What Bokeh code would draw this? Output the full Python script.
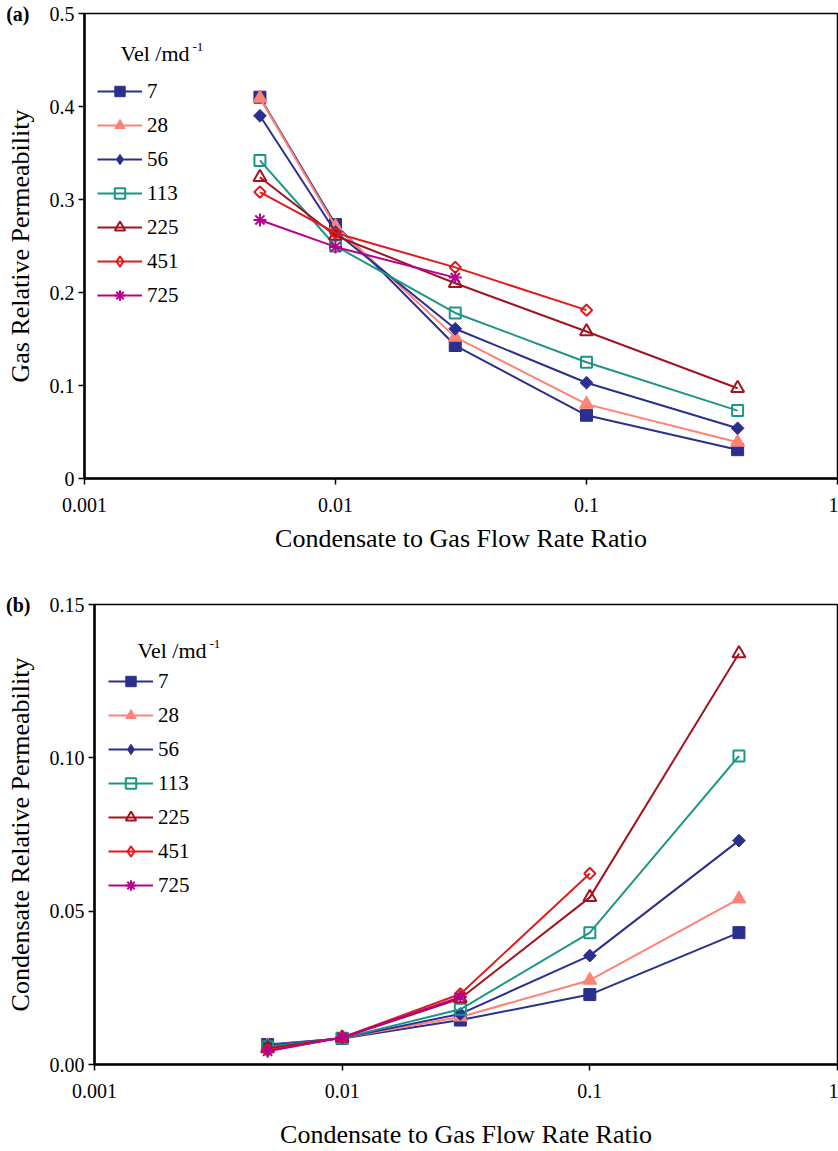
from bokeh.plotting import figure
from bokeh.models import (Range1d, FixedTicker, Legend, LegendItem, Label,
                          NumeralTickFormatter, LinearAxis)
from bokeh.embed import file_html
from bokeh.resources import INLINE

# ---------------- data ----------------
x_ratio = [0.005, 0.01, 0.03, 0.1, 0.4]
velocities = ["7", "28", "56", "113", "225", "451", "725"]

# (a) gas relative permeability
krg_7 = [0.410, 0.273, 0.143, 0.068, 0.031]
krg_28 = [0.409, 0.271, 0.152, 0.080, 0.039]
krg_56 = [0.390, 0.265, 0.161, 0.103, 0.054]
krg_113 = [0.342, 0.250, 0.178, 0.125, 0.073]
krg_225 = [0.324, 0.261, 0.210, 0.158, 0.097]
krg_451 = [0.308, 0.264, 0.227, 0.181]
krg_725 = [0.278, 0.249, 0.216]

# (b) condensate relative permeability
krc_7 = [0.0065, 0.0085, 0.0145, 0.0228, 0.0430]
krc_28 = [0.0062, 0.0086, 0.0155, 0.0275, 0.0540]
krc_56 = [0.0062, 0.0086, 0.0165, 0.0355, 0.0730]
krc_113 = [0.0058, 0.0086, 0.0180, 0.0430, 0.1006]
krc_225 = [0.0052, 0.0087, 0.0215, 0.0545, 0.1340]
krc_451 = [0.0046, 0.0088, 0.0230, 0.0623]
krc_725 = [0.0043, 0.0088, 0.0220]

x_ticks = [0.001, 0.01, 0.1, 1]
x_tick_labels = ["0.001", "0.01", "0.1", "1"]
ya_ticks = [0, 0.1, 0.2, 0.3, 0.4, 0.5]
ya_tick_labels = ["0", "0.1", "0.2", "0.3", "0.4", "0.5"]
yb_ticks = [0, 0.05, 0.10, 0.15]

gas_series = [krg_7, krg_28, krg_56, krg_113, krg_225, krg_451, krg_725]
cond_series = [krc_7, krc_28, krc_56, krc_113, krc_225, krc_451, krc_725]

# ---------------- styles ----------------
NAVY = "#2B2F8E"
SALMON = "#FF8276"
TEAL = "#1B9685"
DARKRED = "#A3141F"
RED = "#E31A1C"
MAGENTA = "#B8008F"
DIAG = 0.785398
styles = [
    dict(color=NAVY, marker="square", filled=True, size=12, angle=0.0, leg="square", leg_size=12),
    dict(color=SALMON, marker="triangle", filled=True, size=14, angle=0.0, leg="triangle", leg_size=14),
    dict(color=NAVY, marker="square", filled=True, size=9, angle=DIAG, leg="diamond", leg_size=14),
    dict(color=TEAL, marker="square", filled=False, size=11, angle=0.0, leg="square", leg_size=11),
    dict(color=DARKRED, marker="triangle", filled=False, size=13, angle=0.0, leg="triangle", leg_size=13),
    dict(color=RED, marker="square", filled=False, size=8, angle=DIAG, leg="diamond", leg_size=13),
    dict(color=MAGENTA, marker="asterisk", filled=False, size=13, angle=0.0, leg="asterisk", leg_size=13),
]

FONT = "Liberation Serif"


def make_panel(series, y_top, y_ticks, y_label, letter, height, border_left,
               border_top, border_bottom, leg_loc, title_xy, sup_xy,
               letter_standoff, x_label_standoff, y_fmt):
    p = figure(width=838, height=height, x_axis_type="log",
               x_range=Range1d(0.001, 1), y_range=Range1d(0, y_top),
               output_backend="svg", toolbar_location=None,
               min_border_left=border_left, min_border_right=1,
               min_border_top=border_top, min_border_bottom=border_bottom)
    p.background_fill_color = "white"
    p.border_fill_color = "white"
    p.outline_line_color = "black"
    p.outline_line_width = 1.5
    p.xgrid.visible = False
    p.ygrid.visible = False

    for ax in (p.xaxis[0], p.yaxis[0]):
        ax.axis_line_width = 2.5
        ax.axis_line_color = "black"
        ax.major_tick_line_width = 1.5
        ax.major_tick_out = 6
        ax.major_tick_in = 0
        ax.minor_tick_line_color = None
        ax.major_label_text_font = FONT
        ax.major_label_text_font_style = "normal"
        ax.major_label_text_font_size = "20px"
        ax.major_label_text_color = "black"
        ax.axis_label_text_font = FONT
        ax.axis_label_text_font_size = "26px"
        ax.axis_label_text_font_style = "normal"
        ax.axis_label_text_color = "black"

    p.xaxis.ticker = FixedTicker(ticks=x_ticks, minor_ticks=[])
    p.xaxis.major_label_overrides = {t: l for t, l in zip(x_ticks, x_tick_labels)}
    p.xaxis.major_label_standoff = 13
    p.xaxis.axis_label = "Condensate to Gas Flow Rate Ratio"
    p.xaxis.axis_label_standoff = x_label_standoff

    p.yaxis.ticker = FixedTicker(ticks=y_ticks, minor_ticks=[])
    p.yaxis.major_label_standoff = 4
    p.yaxis.axis_label = None
    y_fmt(p)

    # outer left axis: panel letter at the top tick, plus the y-axis title
    outer = LinearAxis(ticker=FixedTicker(ticks=[y_top], minor_ticks=[]),
                       major_label_overrides={y_top: letter},
                       axis_line_color=None, major_tick_line_color=None,
                       minor_tick_line_color=None, major_tick_out=0, major_tick_in=0,
                       major_label_standoff=letter_standoff,
                       major_label_text_font=FONT, major_label_text_font_size="20px",
                       major_label_text_font_style="bold", major_label_text_color="black",
                       axis_label=y_label, axis_label_standoff=-32,
                       axis_label_text_font=FONT, axis_label_text_font_size="26px",
                       axis_label_text_font_style="normal", axis_label_text_color="black")
    p.add_layout(outer, "left")

    items = []
    for name, ys, st in zip(velocities, series, styles):
        xs = x_ratio[:len(ys)]
        lr = p.line(xs, ys, line_color=st["color"], line_width=2)
        sr = p.scatter(xs, ys, marker=st["marker"], size=st["size"], angle=st["angle"],
                       line_color=st["color"],
                       line_width=1 if st["filled"] else 2,
                       fill_color=st["color"] if st["filled"] else None)
        if st["angle"] != 0.0:
            # legend swatch for rotated markers (legend ignores marker angle)
            sr = p.scatter(xs, ys, marker=st["leg"], size=st["leg_size"],
                           line_color=st["color"],
                           line_width=1 if st["filled"] else 2,
                           fill_color=st["color"] if st["filled"] else None,
                           visible=False)
        items.append(LegendItem(label=name, renderers=[lr, sr]))

    legend = Legend(items=items, location=leg_loc, padding=0, margin=0,
                    spacing=8, glyph_width=45, glyph_height=26, label_height=26,
                    label_standoff=5, label_text_font=FONT, label_text_font_size="21px",
                    label_text_font_style="normal", label_text_color="black",
                    border_line_color=None, background_fill_alpha=0,
                    inactive_fill_alpha=0)
    p.add_layout(legend)

    p.add_layout(Label(x=title_xy[0], y=title_xy[1], x_units="screen", y_units="screen",
                       text="Vel /md", text_font=FONT, text_font_size="22px",
                       text_font_style="normal",
                       text_baseline="middle", text_align="left", text_color="black"))
    p.add_layout(Label(x=sup_xy[0], y=sup_xy[1], x_units="screen", y_units="screen",
                       text="-1", text_font=FONT, text_font_size="13px",
                       text_font_style="normal",
                       text_baseline="middle", text_align="left", text_color="black"))
    return p


def fmt_a(p):
    p.yaxis[0].major_label_overrides = {t: l for t, l in zip(ya_ticks, ya_tick_labels)}


def fmt_b(p):
    p.yaxis[0].formatter = NumeralTickFormatter(format="0.00")


pa = make_panel(gas_series, 0.5, ya_ticks, "Gas Relative Permeability", "(a)",
                height=580, border_left=84, border_top=13, border_bottom=102,
                leg_loc=(13, 170), title_xy=(36, 425), sup_xy=(108, 432),
                letter_standoff=17, x_label_standoff=9, y_fmt=fmt_a)
pb = make_panel(cond_series, 0.15, yb_ticks, "Condensate Relative Permeability", "(b)",
                height=571, border_left=94, border_top=24, border_bottom=85,
                leg_loc=(14, 166), title_xy=(43, 414), sup_xy=(115, 421),
                letter_standoff=16, x_label_standoff=19, y_fmt=fmt_b)

# two separate roots so that the two frames keep their own left edges
open("out.html", "w").write(file_html([pa, pb], INLINE))
